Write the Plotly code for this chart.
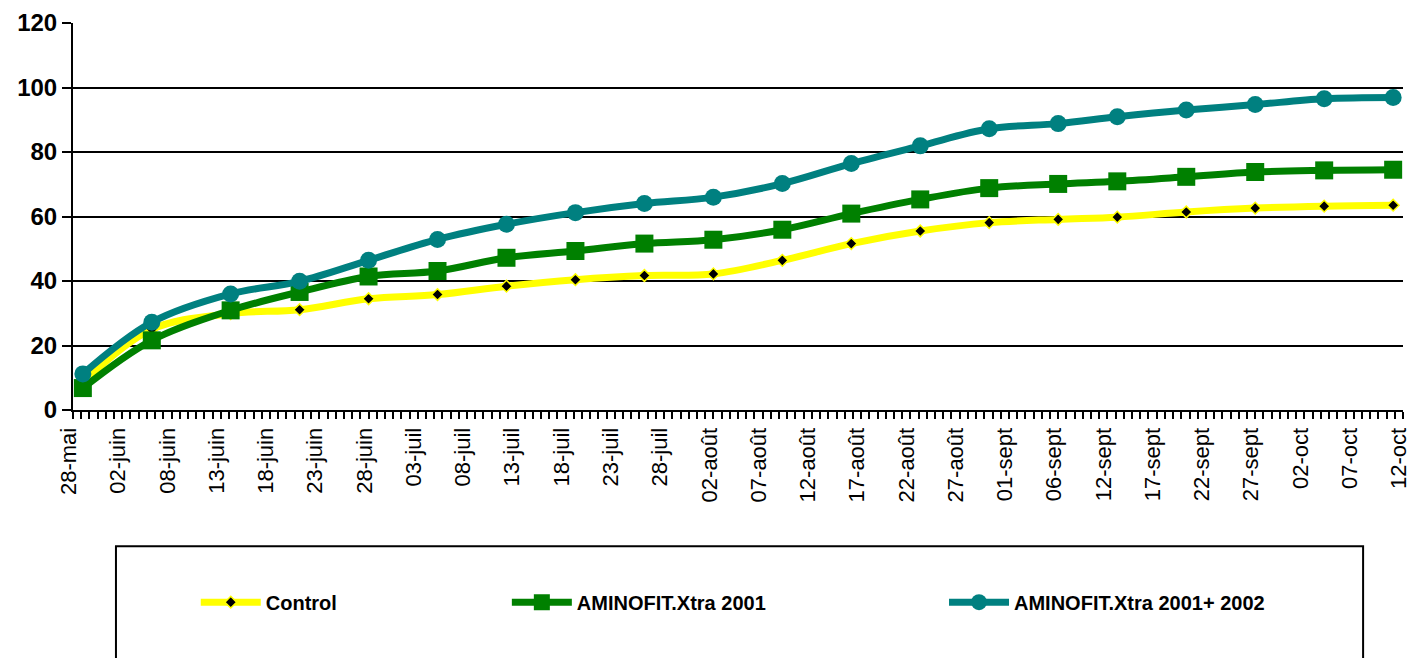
import plotly.graph_objects as go

# Measurement days (days after 28-mai)
days = [1, 8, 16, 23, 30, 37, 44, 51, 58, 65, 72, 79, 86, 93, 100, 106, 113, 120, 127, 134]

control = [8.5, 25.0, 29.9, 31.1, 34.5, 35.8, 38.4, 40.4, 41.7, 42.2, 46.4, 51.6, 55.5,
           58.1, 59.1, 59.8, 61.4, 62.6, 63.2, 63.5]
aminofit_2001 = [6.8, 21.6, 30.9, 36.6, 41.4, 43.1, 47.2, 49.3, 51.6, 52.8, 55.9, 60.9, 65.3,
                 68.8, 70.1, 70.9, 72.3, 73.8, 74.3, 74.5]
aminofit_2001_2002 = [11.2, 27.2, 36.0, 39.9, 46.4, 52.9, 57.6, 61.2, 64.0, 66.0, 70.2, 76.4, 81.9,
                      87.2, 88.8, 90.9, 93.0, 94.7, 96.5, 96.9]

tick_days = list(range(0, 136, 5))
tick_labels = ["28-mai", "02-juin", "08-juin", "13-juin", "18-juin", "23-juin", "28-juin",
               "03-juil", "08-juil", "13-juil", "18-juil", "23-juil", "28-juil",
               "02-août", "07-août", "12-août", "17-août", "22-août", "27-août",
               "01-sept", "06-sept", "12-sept", "17-sept", "22-sept", "27-sept",
               "02-oct", "07-oct", "12-oct"]

FONT = "Arial, 'Liberation Sans', sans-serif"

fig = go.Figure()

fig.add_trace(go.Scatter(
    x=days, y=control, name="Control", mode="lines+markers",
    line=dict(color="#FFFF00", width=7, shape="spline"),
    marker=dict(symbol="diamond", size=9, color="black", line=dict(color="#FFFF00", width=1.5)),
    legend="legend"))
fig.add_trace(go.Scatter(
    x=days, y=aminofit_2001, name="AMINOFIT.Xtra 2001", mode="lines+markers",
    line=dict(color="#008000", width=7, shape="spline"),
    marker=dict(symbol="square", size=18, color="#008000"),
    legend="legend2"))
fig.add_trace(go.Scatter(
    x=days, y=aminofit_2001_2002, name="AMINOFIT.Xtra 2001+ 2002", mode="lines+markers",
    line=dict(color="#008080", width=7, shape="spline"),
    marker=dict(symbol="circle", size=17, color="#008080"),
    legend="legend3"))

leg_common = dict(orientation="h", yanchor="middle", xanchor="left", y=-0.4966,
                  bgcolor="rgba(0,0,0,0)", borderwidth=0, itemwidth=60,
                  font=dict(family=FONT, size=20, color="black", weight="bold"))

fig.update_layout(
    width=1412, height=658,
    margin=dict(l=73, r=9, t=23, b=248, autoexpand=False),
    paper_bgcolor="white", plot_bgcolor="white",
    font=dict(family=FONT, color="black"),
    showlegend=True,
    legend=dict(x=0.0923, **leg_common),
    legend2=dict(x=0.3262, **leg_common),
    legend3=dict(x=0.6549, **leg_common),
    xaxis=dict(
        range=[0, 135], tickmode="array", tickvals=tick_days, ticktext=tick_labels,
        tickangle=-90, tickfont=dict(family=FONT, size=22, color="black"),
        ticklabeloverflow="allow", automargin=False, ticklabelshift=-4,
        ticks="outside", ticklen=7, tickwidth=2, tickcolor="black",
        showline=True, linecolor="black", linewidth=2, showgrid=False, zeroline=False,
        minor=dict(tick0=0, dtick=5/6, ticks="outside", ticklen=7, tickwidth=2,
                   tickcolor="black", showgrid=False),
    ),
    yaxis=dict(
        range=[0, 120], dtick=20, tick0=0, automargin=False,
        tickfont=dict(family=FONT, size=24, color="black", weight="bold"),
        ticks="outside", ticklen=9, tickwidth=2, tickcolor="black",
        showline=True, linecolor="black", linewidth=2,
        showgrid=True, gridcolor="black", gridwidth=2, zeroline=False,
    ),
    shapes=[dict(type="rect", xref="paper", yref="paper",
                 x0=0.0323, x1=0.970, y0=-0.352, y1=-0.66,
                 line=dict(color="black", width=2), fillcolor="rgba(0,0,0,0)", layer="above")],
)

fig.write_html("out.html")
